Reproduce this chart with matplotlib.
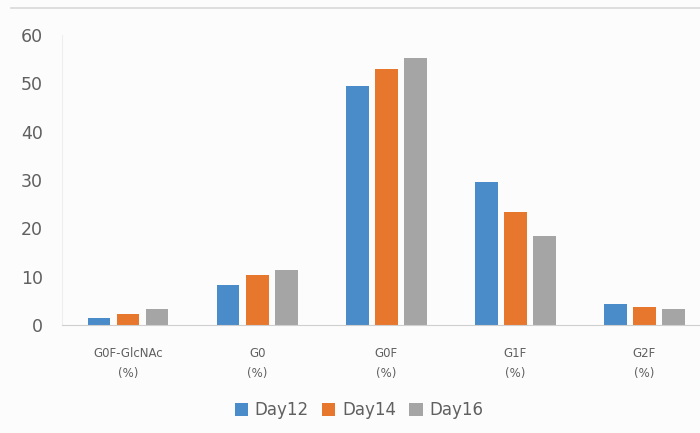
import matplotlib.pyplot as plt
import numpy as np

categories = ["G0F-GlcNAc\n(%)", "G0\n(%)", "G0F\n(%)", "G1F\n(%)", "G2F\n(%)"]
day12 = [1.5, 8.3, 49.4, 29.6, 4.3]
day14 = [2.3, 10.3, 53.0, 23.4, 3.7]
day16 = [3.3, 11.4, 55.3, 18.4, 3.3]

series = [("Day12", day12, "#4a8bc9"), ("Day14", day14, "#e8772e"), ("Day16", day16, "#a5a5a5")]

fig = plt.figure(figsize=(7, 4.33), dpi=100)
fig.patch.set_facecolor("#fcfcfc")
ax = fig.add_axes([0.089, 0.249, 0.911, 0.67])
ax.set_facecolor("#fcfcfc")

x = np.arange(len(categories))
w = 0.175
step = 0.225
for i, (name, vals, col) in enumerate(series):
    ax.bar(x + (i - 1) * step, vals, width=w, color=col, label=name)

ax.set_xlim(-0.51, 4.43)
ax.set_ylim(0, 60)
ax.set_yticks(range(0, 61, 10))
ax.set_xticks(x)
ax.set_xticklabels(categories, fontsize=8.5, color="#606060", linespacing=1.7)
ax.tick_params(axis="y", labelsize=12.5, colors="#606060", length=0, pad=14)
ax.tick_params(axis="x", length=0, pad=16)
for s in ["top", "right"]:
    ax.spines[s].set_visible(False)
ax.spines["left"].set_color("#eeeeee")
ax.spines["bottom"].set_color("#cfcfcf")

# thin frame line at the top of the picture
fig.add_artist(plt.Line2D([0.015, 1.0], [0.982, 0.982], color="#d8d8d8", lw=1.2))

leg = fig.legend(loc="center", bbox_to_anchor=(0.513, 0.053), ncol=3, frameon=False,
                 fontsize=12, handlelength=0.8, handleheight=0.8, handletextpad=0.4,
                 columnspacing=0.8)
for t in leg.get_texts():
    t.set_color("#606060")

fig.savefig("out.png", dpi=100, facecolor=fig.get_facecolor())
